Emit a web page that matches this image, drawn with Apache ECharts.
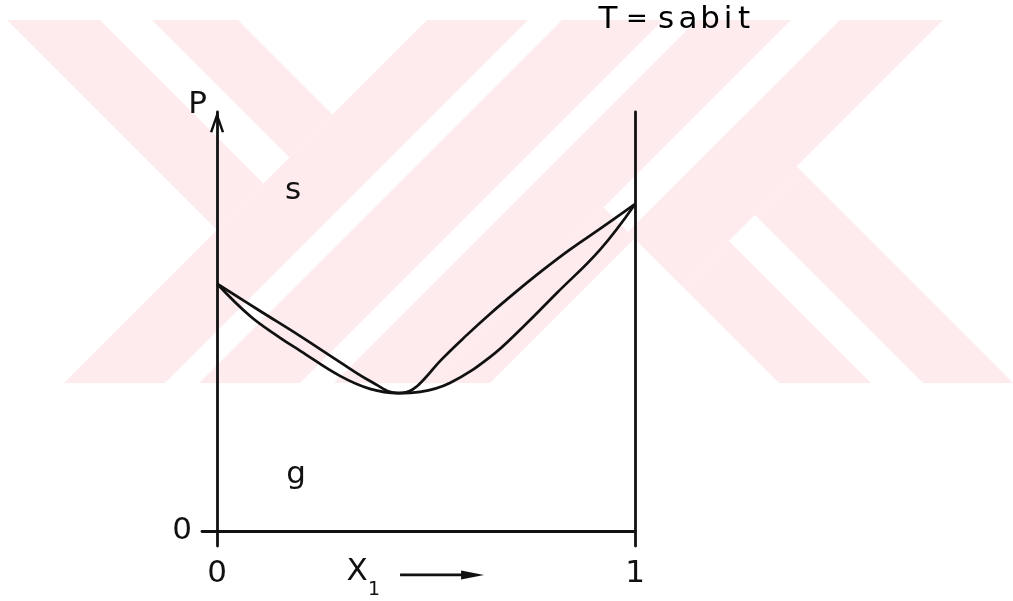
<!DOCTYPE html>
<html>
<head>
<meta charset="utf-8">
<title>P - x1 (T = sabit)</title>
<script src="https://cdn.jsdelivr.net/npm/echarts@6/dist/echarts.min.js"></script>
<style>
  html, body { margin: 0; padding: 0; background: #ffffff; }
  #main { width: 1013px; height: 601px; }
</style>
</head>
<body>
<div id="main"></div>
<script>
// Composition x1 (0..1) and pressure P (relative units) of the two boundary lines
const liquidX = [0, 0.103, 0.199, 0.294, 0.366, 0.433, 0.467, 0.498, 0.534, 0.598, 0.653, 0.718, 0.780, 0.845, 0.916, 1];
const liquidP = [0.590, 0.525, 0.465, 0.403, 0.358, 0.329, 0.337, 0.365, 0.406, 0.468, 0.518, 0.573, 0.623, 0.672, 0.721, 0.780];

const vaporX = [0, 0.079, 0.151, 0.199, 0.294, 0.366, 0.433, 0.486, 0.557, 0.653, 0.732, 0.813, 0.916, 1];
const vaporP = [0.590, 0.513, 0.461, 0.430, 0.370, 0.339, 0.329, 0.332, 0.353, 0.415, 0.487, 0.568, 0.671, 0.780];

// Region names (s = sıvı, g = gaz) and where they sit
const regionNames = ['s', 'g'];
const regionX = [0.182, 0.189];
const regionP = [0.811, 0.134];

// Tick labels and titles
const xTickValues = [0, 1];
const yTickValues = [0];
const xAxisTitle = 'X';
const xAxisSub = '1';
const yAxisTitle = 'P';
const condition = ['T', '=', 's', 'a', 'b', 'i', 't'];

const FONT = 'DejaVu Sans';
const INK = '#111111';
const PINK = '#fdebee';

const pairs = (xs, ys) => xs.map((x, i) => [x, ys[i]]);

// Background emblem: bands along x+y (u) and x-y (v), clipped to a horizontal strip
const bandTop = 20, bandBottom = 383, pageW = 1013;
const bands = [
  { v: [-13, 80], u: [-1e9, 447] },
  { v: [132, 218], u: [-1e9, 447] },
  { u: [447, 548] },
  { u: [582, 683] },
  { u: [717, 811] },
  { u: [811, 873], v: [-1e9, 396] },
  { u: [860, 963], v: [396, 1e9] },
  { v: [396, 630], u: [860, 970] },
  { v: [396, 488], u: [970, 1e9] },
  { v: [540, 630], u: [970, 1e9] }
];

function clip(poly, a, b, c) {
  // keep the part where a*x + b*y + c >= 0
  const out = [];
  for (let i = 0; i < poly.length; i++) {
    const p = poly[i], q = poly[(i + 1) % poly.length];
    const fp = a * p[0] + b * p[1] + c, fq = a * q[0] + b * q[1] + c;
    if (fp >= 0) out.push(p);
    if ((fp >= 0) !== (fq >= 0)) {
      const t = fp / (fp - fq);
      out.push([p[0] + t * (q[0] - p[0]), p[1] + t * (q[1] - p[1])]);
    }
  }
  return out;
}

function bandPolygon(spec) {
  let poly = [[0, bandTop], [pageW, bandTop], [pageW, bandBottom], [0, bandBottom]];
  if (spec.u) {
    poly = clip(poly, 1, 1, -spec.u[0]);
    poly = clip(poly, -1, -1, spec.u[1]);
  }
  if (spec.v) {
    poly = clip(poly, 1, -1, -spec.v[0]);
    poly = clip(poly, -1, 1, spec.v[1]);
  }
  return poly;
}

const emblem = bands.map(b => ({
  type: 'polygon',
  silent: true,
  z: -10,
  shape: { points: bandPolygon(b) },
  style: { fill: PINK }
}));

const xMin = -0.036, yMin = -0.036;

const chart = echarts.init(document.getElementById('main'), null, { renderer: 'canvas' });

const axisLineStyle = { color: INK, width: 2.8 };
const curveStyle = { color: INK, width: 2.7 };

chart.setOption({
  backgroundColor: '#ffffff',
  animation: false,
  grid: { left: 202, right: 378, top: 112, bottom: 55, containLabel: false, outerBoundsMode: 'none' },
  xAxis: {
    type: 'value',
    min: xMin,
    max: 1,
    axisLine: { show: true, onZero: true, lineStyle: axisLineStyle },
    axisTick: { show: false },
    splitLine: { show: false },
    axisLabel: {
      customValues: xTickValues,
      margin: 12,
      fontFamily: FONT,
      fontSize: 31,
      color: INK
    }
  },
  yAxis: [
    {
      type: 'value',
      min: yMin,
      max: 1,
      axisLine: {
        show: true,
        onZero: true,
        // open chevron arrow head at the top of the P axis
        symbol: ['none', 'path://M0,20 L7,0 L14,20 L11.6,20.6 L7,7 L2.4,20.6 Z'],
        symbolSize: [15, 21],
        symbolOffset: [0, -10],
        lineStyle: axisLineStyle
      },
      axisTick: { show: false },
      splitLine: { show: false },
      axisLabel: {
        customValues: yTickValues,
        margin: 10,
        fontFamily: FONT,
        fontSize: 31,
        color: INK
      },
      name: yAxisTitle,
      nameLocation: 'end',
      nameGap: -8,
      nameTextStyle: {
        fontFamily: FONT,
        fontSize: 31,
        color: INK,
        align: 'right',
        verticalAlign: 'bottom',
        padding: [0, 10, 0, 0]
      }
    },
    {
      type: 'value',
      position: 'right',
      min: yMin,
      max: 1,
      axisLine: { show: true, onZero: false, lineStyle: axisLineStyle },
      axisTick: { show: false },
      axisLabel: { show: false },
      splitLine: { show: false }
    }
  ],
  series: [
    {
      name: 'liquid',
      type: 'line',
      data: pairs(liquidX, liquidP),
      smooth: 0.4,
      showSymbol: false,
      symbol: 'none',
      lineStyle: curveStyle,
      z: 5
    },
    {
      name: 'vapor',
      type: 'line',
      data: pairs(vaporX, vaporP),
      smooth: 0.4,
      showSymbol: false,
      symbol: 'none',
      lineStyle: curveStyle,
      z: 5
    },
    {
      name: 'regions',
      type: 'scatter',
      symbolSize: 0,
      itemStyle: { opacity: 1 },
      data: regionNames.map((n, i) => ({ value: [regionX[i], regionP[i]], name: n })),
      label: {
        show: true,
        position: 'inside',
        formatter: p => p.name,
        fontFamily: FONT,
        fontSize: 31,
        color: INK,
        opacity: 1
      },
      emphasis: { disabled: true },
      silent: true,
      z: 6
    }
  ],
  graphic: emblem
});

// Axis title under the x axis and the constant-temperature note, anchored to the plot origin
const origin = chart.convertToPixel({ gridIndex: 0 }, [0, 0]);
const ox = origin[0], oy = origin[1];

// fixed-width cells give the spaced-out lettering of the note
const cellWidths = [24, 34, 24, 20, 24, 12, 20];
const cellKeys = ['t0', 't1', 't2', 't3', 't4', 't5', 't6'];
const noteRich = {};
cellKeys.forEach((k, i) => {
  noteRich[k] = {
    fontFamily: FONT,
    fontSize: i === 1 ? 26 : 31,
    color: INK,
    width: cellWidths[i],
    align: 'center'
  };
});

const overlay = emblem.concat([
  {
    type: 'text', x: ox + 140, y: oy + 41, z: 10,
    style: { text: xAxisTitle, font: '31px "' + FONT + '"', fill: INK, align: 'center', verticalAlign: 'middle' }
  },
  {
    type: 'text', x: ox + 157, y: oy + 59, z: 10,
    style: { text: xAxisSub, font: '19px "' + FONT + '"', fill: INK, align: 'center', verticalAlign: 'middle' }
  },
  {
    type: 'line', z: 10,
    shape: { x1: ox + 183, y1: oy + 44, x2: ox + 250, y2: oy + 44 },
    style: { stroke: INK, lineWidth: 2.6 }
  },
  {
    type: 'polygon', z: 10,
    shape: { points: [[ox + 244, oy + 39.5], [ox + 267, oy + 44], [ox + 244, oy + 48.5]] },
    style: { fill: INK }
  },
  {
    type: 'text', x: 596, y: 20, z: 10,
    style: {
      text: condition.map((ch, i) => '{' + cellKeys[i] + '|' + ch + '}').join(''),
      rich: noteRich,
      align: 'left',
      verticalAlign: 'middle'
    }
  }
]);

chart.setOption({ graphic: overlay }, { replaceMerge: ['graphic'] });
</script>
</body>
</html>
